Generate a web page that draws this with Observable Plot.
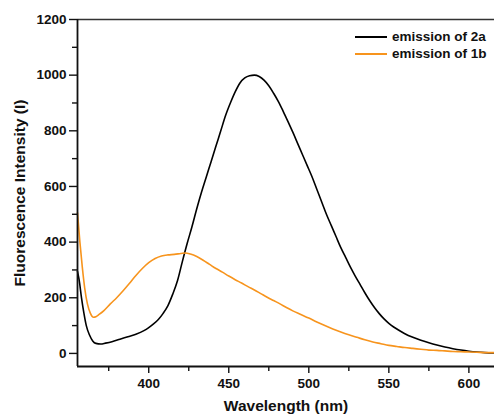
<!DOCTYPE html>
<html>
<head>
<meta charset="utf-8">
<script src="https://cdn.jsdelivr.net/npm/d3@7"></script>
<script src="https://cdn.jsdelivr.net/npm/@observablehq/plot@0.6"></script>
<style>
  html, body { margin: 0; padding: 0; background: #fff; }
  #wrap { position: relative; width: 494px; height: 418px; font-family: "Liberation Sans", Arial, sans-serif; }
  #legend { position: absolute; left: 355px; top: 28px; font-weight: bold; font-size: 13.5px; color: #111; }
  .row { display: flex; align-items: center; height: 17px; }
  .sw { width: 32px; height: 0; border-top: 2px solid; margin-right: 5px; }
</style>
</head>
<body>
<div id="wrap"><div id="legend"></div></div>
<script>
const XMIN = 355.5, XMAX = 616, YMIN = -47, YMAX = 1200;
const seriesNames = ["emission of 2a", "emission of 1b"];
const seriesColors = ["#000000", "#f7941d"];

const wl2a = [355.5,356.5,358,359.5,361,363,365,367,370,373,377,382,387,392,397,400,403,406,409,412,415,418,421,424,427,430,433,436,439,442,445,448,451,454,457,460,463,466,469,472,475,478,481,484,487,490,493,496,499,502,505,508,511,514,517,520,523,526,529,532,535,538,541,544,547,550,553,556,560,565,570,575,580,585,590,595,600,605,610,616];
const int2a = [295,265,200,145,100,66,45,36,34,37,42,51,60,69,82,93,106,122,144,172,213,262,330,395,455,520,580,635,690,745,800,855,900,940,972,990,998,1000,995,982,962,935,905,870,833,795,755,715,675,635,590,545,500,460,420,380,345,310,278,248,218,190,165,143,124,108,95,84,71,58,47,38,30,23,17,12,8,5,3,2];

const wl1b = [355.5,357,358.5,360,361.7,363.5,365.5,367,369,372,376,380,384,388,392,396,400,404,408,412,416,420,423,426,430,434,438,442,446,450,454,458,462,466,470,474,478,482,486,490,495,500,505,510,515,520,525,530,535,540,545,550,555,560,565,570,575,580,585,590,595,600,605,610,616];
const int1b = [505,400,310,235,178,145,130,132,140,154,178,200,225,252,280,305,326,341,350,354,356,359,361,357,348,335,320,305,292,278,265,253,240,228,215,202,190,178,165,153,140,127,113,100,88,77,67,58,49,41,35,29,25,21,18,15,12,11,9,7,6,5,4,3,3];

const xMajor = [400, 450, 500, 550, 600];
const xMinor = [375, 425, 475, 525, 575];
const yMajor = [0, 200, 400, 600, 800, 1000, 1200];
const yMinor = [100, 300, 500, 700, 900, 1100];

const d2a = wl2a.map((x, i) => ({x, y: int2a[i]}));
const d1b = wl1b.map((x, i) => ({x, y: int1b[i]}));

const font = "Liberation Sans, Arial, sans-serif";

const chart = Plot.plot({
  width: 494,
  height: 418,
  marginLeft: 77,
  marginRight: 0,
  marginTop: 19,
  marginBottom: 52,
  style: { fontFamily: font, fontWeight: "bold", fontSize: "13.5px", color: "#111", background: "#fff", overflow: "visible" },
  x: { domain: [XMIN, XMAX] },
  y: { domain: [YMIN, YMAX] },
  marks: [
    Plot.line(d2a, { x: "x", y: "y", stroke: seriesColors[0], strokeWidth: 1.6, curve: "monotone-x" }),
    Plot.line(d1b, { x: "x", y: "y", stroke: seriesColors[1], strokeWidth: 1.6, curve: "monotone-x" }),
    Plot.ruleY([YMAX], { stroke: "#333", strokeWidth: 1.6 }),
    Plot.ruleY([YMIN], { stroke: "#111", strokeWidth: 1.8 }),
    Plot.ruleX([XMIN], { stroke: "#111", strokeWidth: 1.8 }),
    Plot.axisX({ ticks: xMajor, tickSize: 7, tickPadding: 5, tickFormat: d => String(d), stroke: "#111", strokeWidth: 1.4, fontSize: 13.5, label: null }),
    Plot.axisX({ ticks: xMinor, tickSize: 5, tickFormat: () => "", stroke: "#111", strokeWidth: 1.4, label: null }),
    Plot.axisY({ ticks: yMajor, tickSize: 8, tickPadding: 3, tickFormat: d => String(d), stroke: "#111", strokeWidth: 1.4, fontSize: 13.5, label: null }),
    Plot.axisY({ ticks: yMinor, tickSize: 5, tickFormat: () => "", stroke: "#111", strokeWidth: 1.4, label: null }),
    Plot.text(["Wavelength (nm)"], { frameAnchor: "bottom", dy: 44, fontSize: 15.5, fontWeight: "bold", fill: "#111" }),
    Plot.text(["Fluorescence Intensity (I)"], { frameAnchor: "left", dx: -57, rotate: -90, textAnchor: "middle", fontSize: 15.5, fontWeight: "bold", fill: "#111" })
  ]
});

const wrap = document.getElementById("wrap");
wrap.insertBefore(chart, wrap.firstChild);
const legend = document.getElementById("legend");
seriesNames.forEach((name, i) => {
  const row = document.createElement("div");
  row.className = "row";
  const sw = document.createElement("span");
  sw.className = "sw";
  sw.style.borderColor = seriesColors[i];
  const t = document.createElement("span");
  t.textContent = name;
  row.appendChild(sw);
  row.appendChild(t);
  legend.appendChild(row);
});
</script>
</body>
</html>
